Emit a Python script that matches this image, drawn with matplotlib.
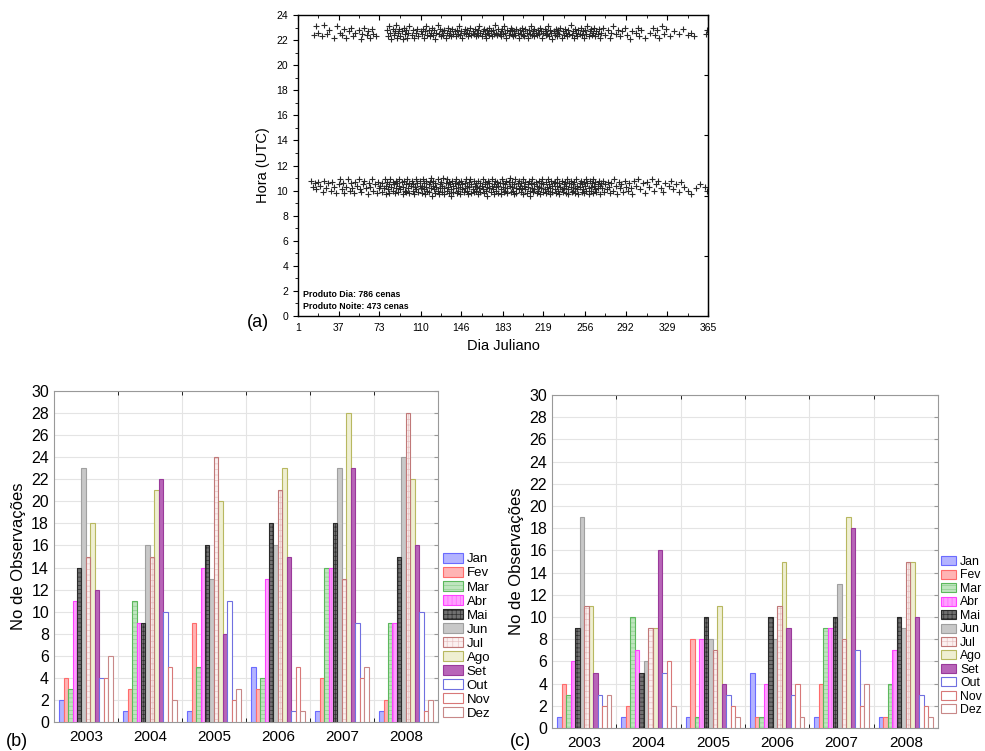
import numpy as np
import matplotlib.pyplot as plt

plt.rcParams['font.family'] = ['Liberation Sans', 'DejaVu Sans']
plt.rcParams['hatch.linewidth'] = 0.5

# Painel (a): passagens diurnas e noturnas (dia juliano, hora UTC)
pontos_dia = [
    (13, 10.8), (14, 10.3), (16, 10.6), (17, 10.1), (19, 10.7), (21, 10.4), (23, 9.9), (24, 10.8), (26, 10.2),
    (28, 10.6), (30, 10.0), (31, 10.7), (33, 10.3), (35, 9.8), (37, 10.5), (38, 10.9), (40, 10.1),
    (41, 10.6), (42, 9.8), (44, 10.3), (45, 10.9), (47, 10.0), (48, 10.6), (49, 10.2), (51, 9.8), (52, 10.7),
    (53, 10.4), (55, 10.9), (56, 10.1), (57, 9.9), (59, 10.5), (60, 10.8), (61, 10.2), (63, 9.7), (64, 10.6),
    (65, 10.3), (67, 10.9), (68, 10.0), (69, 10.5), (71, 9.8), (72, 10.7), (73, 10.2), (74, 10.4),
    (76, 10.6), (76, 9.9), (77, 10.2), (78, 10.9), (79, 10.4), (79, 9.7), (80, 10.7), (81, 10.1), (82, 10.5),
    (82, 9.8), (83, 10.9), (84, 10.3), (85, 10.0), (85, 10.7), (86, 10.5), (87, 9.8), (88, 10.2), (88, 10.8),
    (89, 10.6), (90, 9.9), (91, 10.4), (91, 10.9), (92, 10.1), (93, 10.7), (94, 9.7), (94, 10.3), (95, 10.8),
    (96, 10.0), (97, 10.5), (97, 9.9), (98, 10.9), (99, 10.2), (100, 10.6), (100, 9.8), (101, 10.4),
    (102, 10.8), (103, 10.0), (103, 10.5), (104, 9.7), (105, 10.3), (106, 10.9), (106, 10.1), (107, 10.6),
    (108, 9.9), (109, 10.4), (109, 10.8), (110, 10.2),
    (111, 10.4), (111, 9.8), (112, 10.9), (113, 10.1), (113, 10.6), (114, 9.7), (115, 10.3), (115, 10.8),
    (116, 10.0), (117, 10.5), (117, 9.9), (118, 10.7), (119, 10.2), (119, 11.0), (120, 9.6),
    (121, 10.4), (121, 10.8), (122, 10.1), (123, 9.8), (123, 10.6), (124, 10.3), (125, 10.9), (125, 10.0),
    (126, 9.7), (127, 10.5), (127, 10.2), (128, 10.7), (129, 9.9), (129, 10.4), (130, 11.0),
    (131, 10.2), (131, 9.7), (132, 10.6), (133, 10.0), (133, 10.9), (134, 10.3), (135, 9.8), (135, 10.7),
    (136, 10.5), (137, 10.1), (137, 9.6), (138, 10.8), (139, 10.4), (139, 9.9), (140, 10.6),
    (141, 10.2), (141, 10.9), (142, 9.8), (143, 10.5), (143, 10.0), (144, 10.7), (145, 10.3), (145, 9.7),
    (146, 10.8), (147, 10.1), (147, 10.5), (148, 9.9), (149, 10.6), (149, 10.2), (150, 10.9),
    (151, 10.0), (151, 10.4), (152, 9.7), (153, 10.7), (153, 10.3), (154, 10.9), (155, 9.8), (155, 10.5),
    (156, 10.1), (157, 10.8), (157, 9.9), (158, 10.4), (159, 10.6), (159, 10.0), (160, 10.3),
    (161, 9.7), (161, 10.8), (162, 10.2), (163, 10.6), (163, 9.9), (164, 10.4), (165, 10.9), (165, 10.1),
    (166, 9.8), (167, 10.5), (167, 10.7), (168, 10.0), (169, 10.3), (169, 9.6), (170, 10.8),
    (171, 10.2), (171, 10.6), (172, 9.9), (173, 10.4), (173, 10.9), (174, 10.1), (175, 9.7), (175, 10.5),
    (176, 10.8), (177, 10.0), (177, 10.3), (178, 10.7), (179, 9.8), (179, 10.4), (180, 10.6),
    (181, 10.1), (181, 9.7), (182, 10.9), (183, 10.3), (183, 10.6), (184, 9.9), (185, 10.5), (185, 10.0),
    (186, 10.8), (187, 10.2), (187, 9.8), (188, 10.7), (189, 10.4), (189, 11.0), (190, 9.9),
    (191, 10.3), (191, 10.7), (192, 10.0), (193, 9.7), (193, 10.5), (194, 10.9), (195, 10.2), (195, 9.8),
    (196, 10.6), (197, 10.1), (197, 10.8), (198, 10.4), (199, 9.9), (199, 10.6), (200, 10.2),
    (201, 9.7), (201, 10.9), (202, 10.4), (203, 10.1), (203, 10.7), (204, 9.8), (205, 10.5), (205, 10.3),
    (206, 10.8), (207, 10.0), (207, 9.6), (208, 10.6), (209, 10.2), (209, 10.9), (210, 9.9),
    (211, 10.5), (211, 10.1), (212, 10.7), (213, 9.8), (213, 10.4), (214, 10.0), (215, 10.8), (215, 10.3),
    (216, 9.7), (217, 10.6), (217, 10.2), (218, 10.9), (219, 9.9), (219, 10.5), (220, 10.1),
    (221, 10.7), (221, 9.8), (222, 10.3), (223, 10.9), (223, 10.0), (224, 10.5), (225, 9.7), (225, 10.2),
    (226, 10.8), (227, 10.4), (227, 9.9), (228, 10.6), (229, 10.1), (229, 10.7), (230, 9.8),
    (231, 10.4), (231, 10.9), (232, 10.0), (233, 10.6), (233, 9.7), (234, 10.3), (235, 10.8), (235, 10.1),
    (236, 9.9), (237, 10.5), (237, 10.2), (238, 10.7), (239, 9.8), (239, 10.4), (240, 10.9),
    (241, 10.1), (241, 9.7), (242, 10.6), (243, 10.3), (243, 10.8), (244, 9.9), (245, 10.5), (245, 10.0),
    (246, 10.7), (247, 10.2), (247, 9.8), (248, 10.9), (249, 10.4), (249, 10.1), (250, 9.7),
    (251, 10.6), (251, 10.3), (252, 10.8), (253, 9.9), (253, 10.5), (254, 10.1), (255, 10.7), (255, 9.8),
    (256, 10.4), (257, 10.9), (257, 10.0), (258, 10.6), (259, 10.2), (259, 9.7), (260, 10.8),
    (261, 10.3), (261, 10.0), (262, 10.6), (263, 9.8), (263, 10.9), (264, 10.4), (265, 10.1), (265, 10.7),
    (266, 9.9), (267, 10.5), (267, 10.2), (268, 10.8), (269, 9.7), (269, 10.4), (270, 10.6),
    (271, 10.2), (272, 10.8), (273, 9.9), (274, 10.5), (275, 10.1), (276, 10.7), (277, 10.3), (278, 9.8),
    (279, 10.6), (281, 10.0), (282, 10.9), (283, 10.4), (284, 9.7), (286, 10.7), (287, 10.2), (288, 10.5),
    (290, 9.9), (291, 10.8), (292, 10.3), (294, 10.0), (295, 10.6), (297, 10.2), (298, 9.7), (299, 10.8),
    (301, 10.4), (303, 10.9), (305, 10.1), (307, 10.6), (309, 9.8), (311, 10.7), (313, 10.3), (315, 10.9),
    (317, 10.0), (319, 10.5), (321, 10.8), (323, 10.2), (325, 9.9), (327, 10.6), (330, 10.4), (332, 10.8),
    (334, 10.1), (337, 10.5), (339, 9.9), (341, 10.7), (344, 10.3), (347, 10.0), (350, 9.7), (354, 10.2),
    (358, 10.5), (362, 10.3), (364, 10.0),
]

pontos_noite = [
    (15, 22.4), (17, 23.1), (19, 22.6), (22, 22.3), (24, 23.2), (27, 22.5), (29, 22.8), (33, 22.2), (36, 23.1),
    (38, 22.6), (40, 22.4), (42, 22.9), (44, 22.2), (46, 22.7), (48, 23.0), (50, 22.3), (52, 22.6), (55, 22.8),
    (57, 22.1), (58, 22.5), (60, 23.0), (62, 22.4), (63, 22.7), (65, 22.2), (67, 22.9), (68, 22.5), (70, 22.3),
    (80, 22.8), (81, 22.3), (82, 23.1), (83, 22.6), (84, 22.1), (85, 22.9), (86, 22.4), (87, 22.7), (88, 23.2),
    (89, 22.2), (90, 22.6), (91, 22.9), (92, 22.3), (93, 22.7), (94, 22.1), (95, 23.0), (96, 22.5), (97, 22.8),
    (98, 22.2), (99, 22.6), (100, 23.1), (102, 22.4), (103, 22.8), (104, 22.2), (106, 22.6), (107, 22.9),
    (108, 22.3), (110, 22.7),
    (111, 22.5), (112, 22.9), (113, 22.2), (114, 22.7), (115, 23.1), (116, 22.4), (117, 22.8), (118, 22.3),
    (119, 22.6), (120, 23.0), (121, 22.4), (122, 22.8), (123, 22.1), (124, 22.6), (125, 23.2), (126, 22.5),
    (127, 22.9), (128, 22.3), (129, 22.7), (130, 22.4), (131, 22.8), (132, 22.2), (133, 22.6), (134, 23.0),
    (135, 22.4), (136, 22.7), (137, 22.3), (138, 22.9), (139, 22.5), (140, 22.7), (141, 22.3), (142, 22.8),
    (143, 22.5), (144, 23.1), (145, 22.4), (146, 22.7), (147, 22.2), (148, 22.6), (149, 22.9), (150, 22.5),
    (151, 22.8), (152, 22.3), (153, 22.6), (154, 23.0), (155, 22.4), (156, 22.7), (157, 22.5), (158, 22.9),
    (159, 22.3), (160, 22.6), (161, 22.8), (161, 22.4), (162, 23.1), (163, 22.6), (164, 22.3), (165, 22.7),
    (166, 22.9), (167, 22.5), (168, 22.2), (169, 22.8), (170, 22.6), (171, 22.4), (171, 23.0), (172, 22.7),
    (173, 22.3), (174, 22.8), (175, 22.5), (176, 23.2), (177, 22.6), (178, 22.4), (179, 22.9), (180, 22.5),
    (181, 22.7), (181, 22.3), (182, 22.9), (183, 22.5), (184, 23.1), (185, 22.6), (186, 22.2), (187, 22.8),
    (188, 22.4), (189, 22.7), (190, 23.0), (191, 22.5), (191, 22.8), (192, 22.3), (193, 22.7), (194, 22.4),
    (195, 22.9), (196, 22.6), (197, 22.2), (198, 22.8), (199, 22.5), (200, 23.0), (201, 22.4), (201, 22.7),
    (202, 22.3), (203, 22.9), (204, 22.6), (205, 22.2), (206, 22.8), (207, 22.5), (208, 23.1), (209, 22.4),
    (210, 22.7), (211, 22.9), (211, 22.3), (212, 22.6), (213, 22.4), (214, 22.8), (215, 22.5), (216, 23.0),
    (217, 22.7), (218, 22.2), (219, 22.6), (220, 22.9), (221, 22.4), (221, 22.7), (222, 22.5), (223, 23.1),
    (224, 22.3), (225, 22.8), (226, 22.6), (227, 22.1), (228, 22.7), (229, 22.4), (230, 22.9), (231, 22.6),
    (231, 22.3), (232, 22.8), (233, 22.5), (234, 23.0), (235, 22.2), (236, 22.7), (237, 22.4), (238, 22.9),
    (239, 22.6), (240, 22.3), (241, 22.8), (242, 22.5), (243, 23.2), (244, 22.4), (245, 22.7), (246, 22.2),
    (247, 22.9), (248, 22.6), (249, 22.3), (250, 22.8), (251, 22.5), (252, 23.0), (253, 22.4), (254, 22.7),
    (255, 22.2), (256, 22.8), (257, 22.5), (258, 23.1), (259, 22.3), (260, 22.7), (261, 22.9), (262, 22.4),
    (263, 22.6), (264, 23.0), (265, 22.3), (266, 22.7), (267, 22.5), (268, 22.9), (269, 22.2), (270, 22.6),
    (272, 23.0), (274, 22.4), (276, 22.8), (278, 22.2), (279, 22.6), (281, 23.1), (283, 22.5), (285, 22.8),
    (287, 22.3), (289, 22.7), (291, 23.0), (293, 22.4), (296, 22.1), (298, 22.7),
    (301, 22.6), (303, 23.0), (304, 22.3), (306, 22.8), (309, 22.2), (314, 22.6), (316, 23.0), (318, 22.4),
    (320, 22.8), (322, 22.2), (324, 23.1), (326, 22.5), (328, 22.9), (331, 22.3), (335, 22.7), (339, 22.5),
    (343, 22.9), (347, 22.4), (350, 22.6), (353, 22.3), (363, 22.5), (364, 22.8),
]

dias_ticks = [1, 37, 73, 110, 146, 183, 219, 256, 292, 329, 365]

# Paineis (b) e (c): numero de observacoes por mes e ano
meses = ['Jan', 'Fev', 'Mar', 'Abr', 'Mai', 'Jun', 'Jul', 'Ago', 'Set', 'Out', 'Nov', 'Dez']
anos = ['2003', '2004', '2005', '2006', '2007', '2008']

obs_b = [
    [2, 1, 1, 5, 1, 1],        # Jan
    [4, 3, 9, 3, 4, 2],        # Fev
    [3, 11, 5, 4, 14, 9],      # Mar
    [11, 9, 14, 13, 14, 9],    # Abr
    [14, 9, 16, 18, 18, 15],   # Mai
    [23, 16, 13, 16, 23, 24],  # Jun
    [15, 15, 24, 21, 13, 28],  # Jul
    [18, 21, 20, 23, 28, 22],  # Ago
    [12, 22, 8, 15, 23, 16],   # Set
    [4, 10, 11, 1, 9, 10],     # Out
    [4, 5, 2, 5, 4, 1],        # Nov
    [6, 2, 3, 1, 5, 2],        # Dez
]

obs_c = [
    [1, 1, 1, 5, 1, 1],        # Jan
    [4, 2, 8, 1, 4, 1],        # Fev
    [3, 10, 1, 1, 9, 4],       # Mar
    [6, 7, 8, 4, 9, 7],        # Abr
    [9, 5, 10, 10, 10, 10],    # Mai
    [19, 6, 8, 8, 13, 9],      # Jun
    [11, 9, 7, 11, 8, 15],     # Jul
    [11, 9, 11, 15, 19, 15],   # Ago
    [5, 16, 4, 9, 18, 10],     # Set
    [3, 5, 3, 3, 7, 3],        # Out
    [2, 6, 2, 4, 2, 2],        # Nov
    [3, 2, 1, 1, 4, 1],        # Dez
]

# estilos de cada mes (face, borda, hachura e cor da hachura)
cor_face = ['#b4b4ff', '#ffb4b4', '#bfe5bf', '#ffa0ff', '#707070', '#c8c8c8',
            '#fbf0f0', '#efefd2', '#b865b8', 'white', 'white', 'white']
cor_borda = ['#6b6bff', '#ff6b6b', '#5cb85c', '#ff40ff', '#2a2a2a', '#a0a0a0',
             '#c07878', '#b8b860', '#9a3a9a', '#7070e0', '#d87878', '#c88888']
hachura = [None, None, '----', '||||', '++++', None, '+++', None, None, None, None, None]
cor_hachura = [None, None, '#8fcf8f', '#ff60ff', '#303030', None, '#e8c4c4', None, None, None, None, None]

fig = plt.figure(figsize=(9.85, 7.51), dpi=100)

# ---------- (a) ----------
ax_a = fig.add_axes([0.3025, 0.5792, 0.4162, 0.4008])
dia = np.array(pontos_dia)
noite = np.array(pontos_noite)
ax_a.plot(dia[:, 0], dia[:, 1], '+', ms=4, mew=0.8, color='#2a2a2a')
ax_a.plot(noite[:, 0], noite[:, 1], '+', ms=4, mew=0.8, color='#2a2a2a')
ax_a.set_xlim(1, 365)
ax_a.set_ylim(0, 24)
ax_a.set_xticks(dias_ticks)
ax_a.set_xticks([(a + b) / 2 for a, b in zip(dias_ticks[:-1], dias_ticks[1:])], minor=True)
ax_a.set_yticks(range(0, 25, 2))
ax_a.set_yticks(range(0, 25, 1), minor=True)
ax_a.tick_params(axis='x', which='major', direction='in', top=True, length=3.5, labelsize=7.5, pad=5)
ax_a.tick_params(axis='x', which='minor', direction='in', top=True, length=2)
ax_a.tick_params(axis='y', which='major', direction='out', length=3.5, labelsize=7.5)
ax_a.tick_params(axis='y', which='minor', direction='out', length=2)
sec = ax_a.secondary_yaxis('right')
sec.set_yticks([4.8, 9.6, 14.4, 19.2])
sec.yaxis.set_ticklabels([])
sec.tick_params(direction='in', length=3)
for s in ax_a.spines.values():
    s.set_linewidth(1.0)
ax_a.set_xlabel('Dia Juliano', fontsize=10.5, labelpad=4)
ax_a.set_ylabel('Hora (UTC)', fontsize=10.5, labelpad=5)
ax_a.text(0.012, 0.073, 'Produto Dia: 786 cenas', transform=ax_a.transAxes,
          fontsize=6.3, fontweight='bold', va='center')
ax_a.text(0.012, 0.03, 'Produto Noite: 473 cenas', transform=ax_a.transAxes,
          fontsize=6.3, fontweight='bold', va='center')
fig.text(0.262, 0.570, '(a)', fontsize=13, ha='center', va='center')


def barras(ax, obs, leg_x, leg_y, leg_fs, leg_hl):
    x = np.arange(len(anos))
    w = 0.07
    handles = []
    for i, m in enumerate(meses):
        pos = x + (i - 5.5) * w
        if hachura[i]:
            # hachura em cor propria, borda desenhada por cima
            fundo = ax.bar(pos, obs[i], w, facecolor=cor_face[i], edgecolor=cor_hachura[i],
                           hatch=hachura[i], linewidth=0, zorder=3)
            borda = ax.bar(pos, obs[i], w, facecolor='none', edgecolor=cor_borda[i],
                           linewidth=0.8, zorder=4)
            handles.append((fundo[0], borda[0]))
        else:
            b = ax.bar(pos, obs[i], w, facecolor=cor_face[i], edgecolor=cor_borda[i],
                       linewidth=0.8, zorder=3)
            handles.append(b[0])
    ax.set_xlim(-0.5, len(anos) - 0.5)
    ax.set_ylim(0, 30)
    ax.set_xticks(x, anos)
    ax.set_xticks(x[:-1] + 0.5, minor=True)
    ax.set_yticks(range(0, 31, 2))
    ax.grid(which='minor', axis='x', color='#e4e4e4', lw=0.8, zorder=0)
    ax.grid(which='major', axis='y', color='#e4e4e4', lw=0.8, zorder=0)
    ax.tick_params(axis='x', which='major', length=0, labelsize=11, pad=6)
    ax.tick_params(axis='x', which='minor', length=3, direction='in', top=True)
    ax.tick_params(axis='y', left=False, right=True, direction='in', length=3,
                   labelsize=11.5, color='#999999')
    for s in ax.spines.values():
        s.set_color('#999999')
    ax.set_ylabel('No de Observações', fontsize=12, labelpad=4)
    fig.legend(handles, meses, loc='upper left', bbox_to_anchor=(leg_x, leg_y),
               frameon=False, fontsize=leg_fs, handlelength=leg_hl, handleheight=0.75,
               labelspacing=0.12, handletextpad=0.3, borderpad=0, borderaxespad=0)


# ---------- (b) ----------
ax_b = fig.add_axes([0.0548, 0.0386, 0.3898, 0.4407])
barras(ax_b, obs_b, 0.4497, 0.2636, 9.5, 1.5)
fig.text(0.017, 0.013, '(b)', fontsize=13, ha='center', va='center')

# ---------- (c) ----------
ax_c = fig.add_axes([0.5604, 0.0306, 0.3919, 0.4434])
barras(ax_c, obs_c, 0.9553, 0.2597, 8.8, 1.25)
fig.text(0.528, 0.013, '(c)', fontsize=13, ha='center', va='center')

fig.savefig('out.png', dpi=100)
